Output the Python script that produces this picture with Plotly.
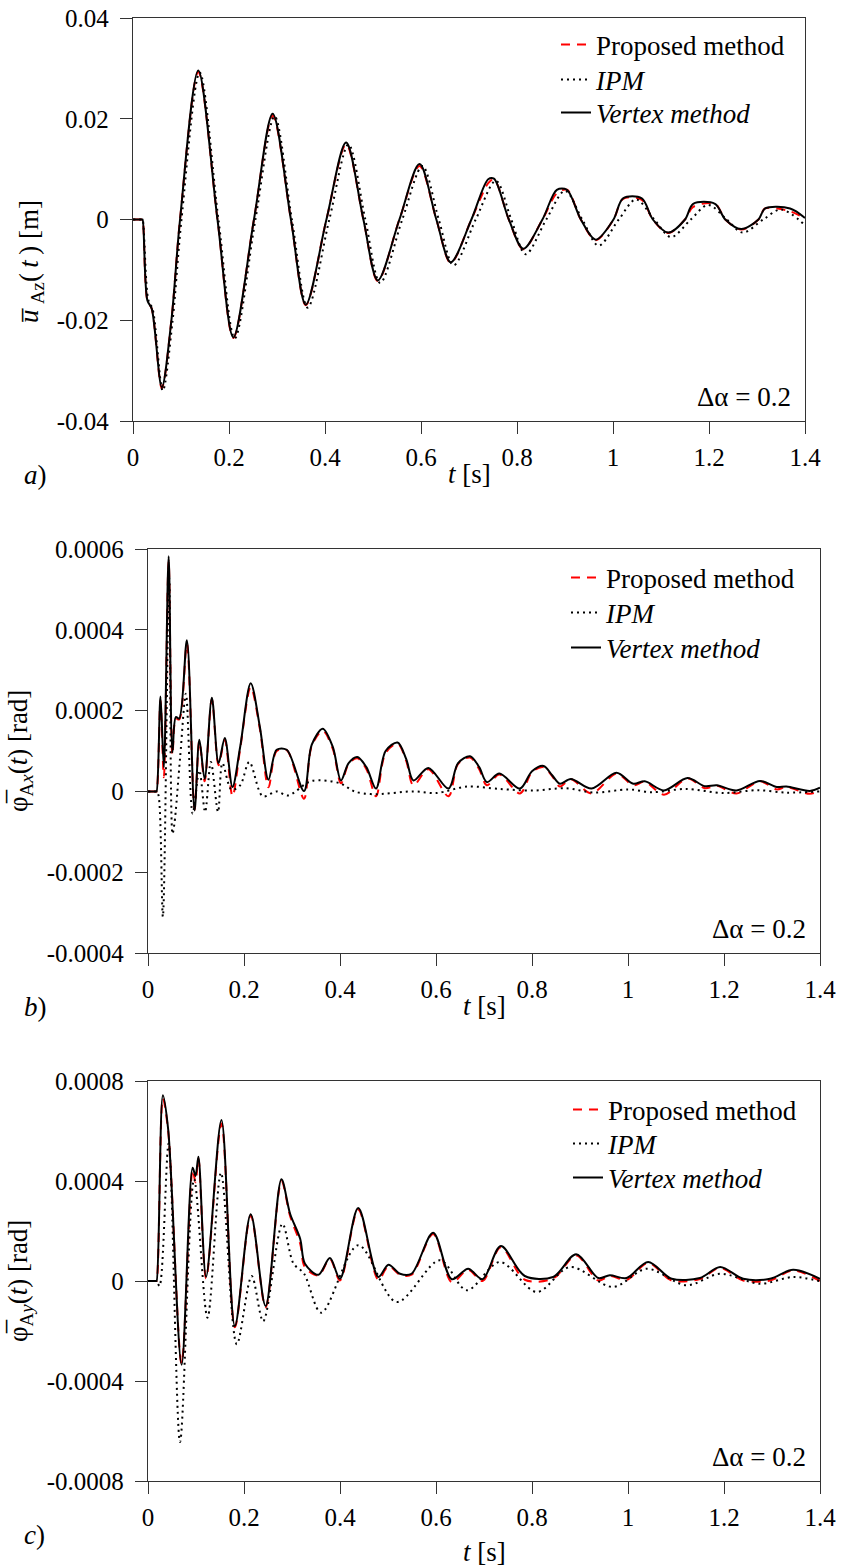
import plotly.graph_objects as go

W, H = 841, 1568

# ---------------- data: panel a (u_Az [m]) ----------------
t_a_vertex = [0, 0.019, 0.02, 0.03, 0.039, 0.06, 0.08, 0.098, 0.136, 0.176, 0.209, 0.252, 0.291, 0.329, 0.36,
              0.403, 0.444, 0.48, 0.51, 0.555, 0.597, 0.632, 0.662, 0.705, 0.74, 0.752, 0.783, 0.813, 0.853,
              0.883, 0.904, 0.933, 0.964, 1.001, 1.021, 1.06, 1.083, 1.115, 1.15, 1.167, 1.2125, 1.234, 1.267,
              1.303, 1.317, 1.369, 1.4]
u_a_vertex = [0, 0, 0, -0.0161, -0.0177, -0.0333, -0.020, 0, 0.0296, 0, -0.0234, 0, 0.021, 0, -0.0169,
              0, 0.0153, 0, -0.0121, 0, 0.011, 0, -0.0085, 0, 0.0080, 0.0081, 0, -0.0058, 0,
              0.0059, 0.0059, 0, -0.0040, 0, 0.0042, 0.0042, 0, -0.0026, 0, 0.0031, 0.0031, 0, -0.0019,
              0, 0.0022, 0.0022, 0.0003]
u_a_proposed = [0, 0, 0, -0.0161, -0.0177, -0.0335, -0.020, 0, 0.0293, 0, -0.0235, 0, 0.0206, 0, -0.0170,
                0, 0.0149, 0, -0.0122, 0, 0.0106, 0, -0.0086, 0, 0.0072, 0.0080, 0, -0.0059, 0,
                0.0052, 0.0059, 0, -0.0041, 0, 0.0041, 0.0039, 0, -0.0027, 0, 0.0025, 0.0031, 0, -0.0020,
                0, 0.0022, 0.0016, 0.0002]
t_a_ipm = [0, 0.019, 0.02, 0.032, 0.041, 0.062, 0.082, 0.101, 0.139, 0.178, 0.212, 0.255, 0.295, 0.331, 0.364,
           0.409, 0.449, 0.484, 0.515, 0.561, 0.603, 0.637, 0.668, 0.714, 0.756, 0.788, 0.818, 0.861, 0.90,
           0.936, 0.97, 1.012, 1.048, 1.086, 1.121, 1.162, 1.198, 1.237, 1.27, 1.313, 1.35, 1.4]
u_a_ipm = [0, 0, 0, -0.0160, -0.0178, -0.0340, -0.0205, 0, 0.0292, 0, -0.0236, 0, 0.0205, 0, -0.0175,
           0, 0.0149, 0, -0.0126, 0, 0.0106, 0, -0.0091, 0, 0.0077, 0, -0.0069, 0, 0.0057,
           0, -0.0052, 0, 0.0040, 0, -0.0035, 0, 0.0029, 0, -0.0026, 0, 0.0020, -0.0011]

# ---------------- data: panel b (phi_Ax [rad]) ----------------
t_b_vertex = [0, 0.017, 0.018, 0.026, 0.033, 0.043, 0.051, 0.058, 0.065, 0.081, 0.097, 0.107, 0.118, 0.133,
              0.147, 0.160, 0.176, 0.192, 0.214, 0.233, 0.251, 0.268, 0.289, 0.325, 0.341, 0.364, 0.385,
              0.402, 0.418, 0.436, 0.455, 0.475, 0.495, 0.52, 0.538, 0.553, 0.584, 0.626, 0.646, 0.671,
              0.69, 0.706, 0.732, 0.775, 0.80, 0.824, 0.842, 0.858, 0.881, 0.924, 0.976, 1.011, 1.035,
              1.075, 1.124, 1.16, 1.185, 1.226, 1.275, 1.31, 1.33, 1.379, 1.4]
p_b_vertex = [0, 0, 0, 0.000235, 0.000060, 0.000582, 0.000097, 0.000184, 0.000180, 0.000374, -0.000047,
              0.000128, 0.000031, 0.000232, 0.000070, 0.000132, 0.000011, 0.000110, 0.000268, 0.000160,
              0.000029, 0.000103, 0.000103, 0.000001, 0.000115, 0.000155, 0.000110, 0.000027, 0.000070,
              0.000085, 0.000060, 0.000007, 0.000100, 0.000121, 0.000080, 0.000027, 0.000058, 0.000007,
              0.000070, 0.000087, 0.000060, 0.000023, 0.000044, 0.000007, 0.000050, 0.000063, 0.000040,
              0.000019, 0.000031, 0.000007, 0.000046, 0.000019, 0.000025, 0.0000025, 0.000033, 0.000013,
              0.000015, 0.0000025, 0.000026, 0.000011, 0.000012, 0.000001, 0.000009]
p_b_proposed = [0, 0, 0, 0.000225, 0.000035, 0.000570, 0.000090, 0.000180, 0.000178, 0.000365, -0.000045,
                0.000125, 0.000025, 0.000228, 0.000065, 0.000128, -0.000012, 0.000105, 0.000258, 0.000155,
                0.000010, 0.000100, 0.000102, -0.000018, 0.000112, 0.000150, 0.000105, 0.000020, 0.000068,
                0.000082, 0.000055, -0.000012, 0.000095, 0.000118, 0.000075, 0.000015, 0.000055, -0.000012,
                0.000068, 0.000084, 0.000055, 0.000015, 0.000042, -0.000005, 0.000048, 0.000060, 0.000038,
                0.000012, 0.000030, -0.000005, 0.000044, 0.000015, 0.000024, -0.000008, 0.000032, 0.000008,
                0.000014, -0.000005, 0.000025, 0.000005, 0.000011, -0.000006, 0.000003]
t_b_ipm = [0, 0.017, 0.018, 0.022, 0.031, 0.044, 0.051, 0.055, 0.067, 0.079, 0.093, 0.107, 0.119, 0.131,
           0.146, 0.155, 0.174, 0.192, 0.211, 0.239, 0.268, 0.292, 0.341, 0.40, 0.43, 0.469, 0.553, 0.601,
           0.665, 0.733, 0.803, 0.87, 0.93, 1.0, 1.05, 1.12, 1.2, 1.27, 1.33, 1.4]
p_b_ipm = [0, 0, 0, -0.000010, -0.000310, 0.000530, -0.000105, -0.000080, 0.000085, 0.000242, -0.000055,
           0.000052, -0.000051, 0.000073, -0.000051, 0.000070, 0.000004, 0.000015, 0.000073, -0.000012,
           0.000000, -0.000010, 0.000026, 0.000020, 0.000000, -0.000007, 0.000000, -0.000004, 0.000012,
           0.000006, 0.000002, 0.000008, -0.000003, 0.000005, -0.000002, 0.000006, -0.000004, 0.000003,
           -0.000003, 0.000000]

# ---------------- data: panel c (phi_Ay [rad]) ----------------
t_c_vertex = [0, 0.017, 0.018, 0.031, 0.042, 0.07, 0.093, 0.099, 0.105, 0.121, 0.153, 0.181, 0.214, 0.245,
              0.278, 0.296, 0.317, 0.327, 0.355, 0.379, 0.40, 0.438, 0.48, 0.501, 0.525, 0.549, 0.594,
              0.633, 0.667, 0.697, 0.735, 0.785, 0.844, 0.892, 0.938, 0.962, 0.997, 1.042, 1.091, 1.15,
              1.192, 1.24, 1.296, 1.344, 1.4]
p_c_vertex = [0, 0, 0, 0.000743, 0.000607, -0.000335, 0.000453, 0.000420, 0.000497, 0.000017, 0.000644,
              -0.000180, 0.000267, -0.000100, 0.000407, 0.000269, 0.000169, 0.000069, 0.000025, 0.000092,
              0.000009, 0.000292, 0.000016, 0.000065, 0.000029, 0.000029, 0.000193, 0.000007, 0.000049,
              0.000007, 0.000140, 0.000020, 0.000016, 0.000107, 0.000012, 0.000023, 0.000012, 0.000076,
              0.000009, 0.000012, 0.000056, 0.000009, 0.000009, 0.000045, 0.000009]
p_c_proposed = [0, 0, 0, 0.000730, 0.000600, -0.000330, 0.000445, 0.000395, 0.000490, 0.000010, 0.000630,
                -0.000185, 0.000262, -0.000105, 0.000400, 0.000260, 0.000150, 0.000055, 0.000022, 0.000088,
                0.000002, 0.000285, 0.000005, 0.000060, 0.000025, 0.000025, 0.000188, -0.000005, 0.000045,
                0.000000, 0.000135, 0.000005, 0.000010, 0.000102, 0.000002, 0.000020, 0.000005, 0.000072,
                0.000002, 0.000008, 0.000052, 0.000002, 0.000002, 0.000042, 0.000000]
t_c_ipm = [0, 0.017, 0.018, 0.024, 0.043, 0.0667, 0.096, 0.124, 0.152, 0.185, 0.216, 0.24, 0.28, 0.303,
           0.325, 0.361, 0.438, 0.518, 0.608, 0.664, 0.733, 0.81, 0.879, 0.969, 1.039, 1.122, 1.192,
           1.275, 1.344, 1.4]
p_c_ipm = [0, 0, 0, -0.000020, 0.000550, -0.000644, 0.000407, -0.000147, 0.000433, -0.000253, 0.000020,
           -0.000161, 0.000229, 0.000070, 0.000030, -0.000127, 0.000143, -0.000084, 0.000083, -0.000037,
           0.000076, -0.000044, 0.000056, -0.000024, 0.000049, -0.000017, 0.000029, -0.000011, 0.000016,
           -0.000001]

# ---------------- tick labels ----------------
x_tickvals = [0, 0.2, 0.4, 0.6, 0.8, 1.0, 1.2, 1.4]
x_ticktext = ["0", "0.2", "0.4", "0.6", "0.8", "1", "1.2", "1.4"]
a_tickvals = [-0.04, -0.02, 0, 0.02, 0.04]
a_ticktext = ["-0.04", "-0.02", "0", "0.02", "0.04"]
b_tickvals = [-0.0004, -0.0002, 0, 0.0002, 0.0004, 0.0006]
b_ticktext = ["-0.0004", "-0.0002", "0", "0.0002", "0.0004", "0.0006"]
c_tickvals = [-0.0008, -0.0004, 0, 0.0004, 0.0008]
c_ticktext = ["-0.0008", "-0.0004", "0", "0.0004", "0.0008"]

series_names = ["Proposed method", "<i>IPM</i>", "<i>Vertex method</i>"]

FONT = "Liberation Serif"


def px(x):
    return x / W


def py(y):
    return 1 - y / H


fig = go.Figure()

panels = [
    ("x", "y", t_a_vertex, u_a_proposed, t_a_ipm, u_a_ipm, t_a_vertex, u_a_vertex),
    ("x2", "y2", t_b_vertex, p_b_proposed, t_b_ipm, p_b_ipm, t_b_vertex, p_b_vertex),
    ("x3", "y3", t_c_vertex, p_c_proposed, t_c_ipm, p_c_ipm, t_c_vertex, p_c_vertex),
]
line_styles = [dict(color="#ff0000", width=2, dash="9px,7px"),
               dict(color="#000000", width=2, dash="2px,4px"),
               dict(color="#000000", width=2)]
SM = 0.9
k = 0
for xa, ya, tp, vp, ti, vi, tv, vv in panels:
    for j, (tt, vals) in enumerate([(tp, vp), (ti, vi), (tv, vv)]):
        k += 1
        lg = "legend" if k == 1 else "legend%d" % k
        fig.add_trace(go.Scatter(x=tt, y=vals, mode="lines", name=series_names[j], xaxis=xa, yaxis=ya,
                                 legend=lg, line=dict(line_styles[j], shape="spline", smoothing=SM)))

# pixel frames of the three panels: (left, right, top, bottom)
frames = [(133, 805, 18, 421), (148, 820, 549, 953), (148, 820, 1081, 1481)]
yranges = [[-0.04, 0.04], [-0.0004, 0.0006], [-0.0008, 0.0008]]
yticks = [(a_tickvals, a_ticktext), (b_tickvals, b_ticktext), (c_tickvals, c_ticktext)]

axis_common = dict(showline=True, linecolor="#333333", linewidth=1.3, mirror=True, ticks="outside",
                   ticklen=12, tickwidth=1.3, tickcolor="#333333", showgrid=False, zeroline=False,
                   tickfont=dict(family=FONT, size=25, color="black"),
                   automargin=False)

layout = dict(width=W, height=H, margin=dict(l=0, r=0, t=0, b=0), paper_bgcolor="white",
              plot_bgcolor="white", font=dict(family=FONT, color="black"), showlegend=True)

for i, (l, r, t, b) in enumerate(frames):
    sfx = "" if i == 0 else str(i + 1)
    layout["xaxis" + sfx] = dict(axis_common, domain=[px(l), px(r)], range=[0, 1.4],
                                 tickvals=x_tickvals, ticktext=x_ticktext, ticklabelstandoff=2,
                                 anchor="y" + sfx)
    layout["yaxis" + sfx] = dict(axis_common, domain=[py(b), py(t)], range=yranges[i],
                                 tickvals=yticks[i][0], ticktext=yticks[i][1], ticklabelstandoff=6,
                                 anchor="x" + sfx)

# one single-item legend per trace: (box left px, row centre px)
legend_pos = [(556, 45), (556, 80), (556, 113),
              (566, 578), (566, 613), (566, 648),
              (568, 1110), (568, 1144), (568, 1178)]
for i, (lx, ly) in enumerate(legend_pos):
    key = "legend" if i == 0 else "legend%d" % (i + 1)
    layout[key] = dict(x=px(lx), y=py(ly), xanchor="left", yanchor="middle", bgcolor="rgba(0,0,0,0)",
                       borderwidth=0, font=dict(family=FONT, size=27, color="black"),
                       itemwidth=30, tracegroupgap=0)

fig.update_layout(**layout)

ytitles = ["<i>u\u0305</i>\u2009<sub>Az</sub>(\u2009<i>t</i>\u2009) [m]",
           "\u03c6\u0305<sub>A<i>x</i></sub>(<i>t</i>) [rad]",
           "\u03c6\u0305<sub>A<i>y</i></sub>(<i>t</i>) [rad]"]
ytitle_pos = [(31, 262), (20, 751), (20, 1281)]
panel_tags = ["<i>a</i>)", "<i>b</i>)", "<i>c</i>)"]
xtitle_y = [474, 1006, 1552]
tag_y = [475, 1007, 1535]

ann = []
for i, (l, r, t, b) in enumerate(frames):
    ann.append(dict(x=px(ytitle_pos[i][0]), y=py(ytitle_pos[i][1]), xref="paper", yref="paper",
                    text=ytitles[i], textangle=-90, showarrow=False, xanchor="center", yanchor="middle",
                    font=dict(family=FONT, size=27, color="black")))
    ann.append(dict(x=px((l + r) / 2), y=py(xtitle_y[i]), xref="paper", yref="paper", text="<i>t</i> [s]",
                    showarrow=False, xanchor="center", yanchor="middle",
                    font=dict(family=FONT, size=27, color="black")))
    ann.append(dict(x=px(22), y=py(tag_y[i]), xref="paper", yref="paper", text=panel_tags[i],
                    showarrow=False, xanchor="left", yanchor="middle",
                    font=dict(family=FONT, size=27, color="black")))
    ann.append(dict(x=px(r - 12), y=py(b - 24), xref="paper", yref="paper", text="\u0394\u03b1 = 0.2",
                    showarrow=False, xanchor="right", yanchor="middle",
                    font=dict(family=FONT, size=27, color="black")))

fig.update_layout(annotations=ann)

fig.write_html("out.html", config={"displayModeBar": False},
               post_script="document.body.style.margin='0';document.body.style.padding='0';"
                           "document.documentElement.style.overflow='hidden';")
